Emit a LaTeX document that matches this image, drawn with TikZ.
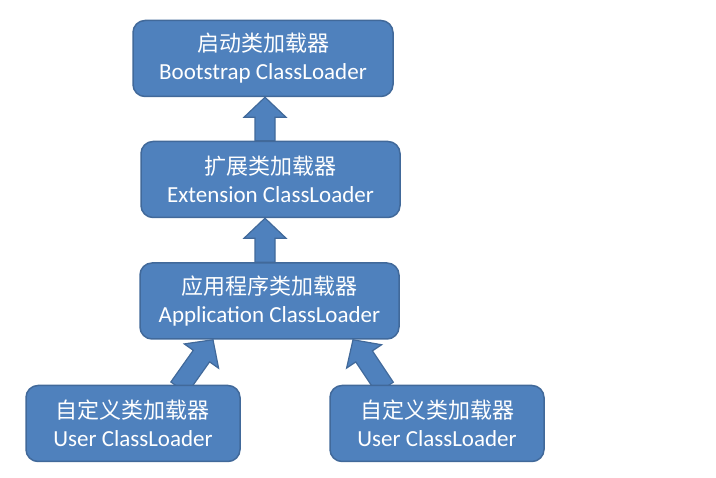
\documentclass[tikz,border=0pt]{standalone}
\usepackage{fontspec}
\setmainfont{Carlito}
\newfontfamily\cjk{Noto Sans CJK SC}
\usepackage{xcolor}
\usetikzlibrary{calc,backgrounds}

\definecolor{loaderblue}{HTML}{4F81BD}
\definecolor{loaderedge}{HTML}{41699A}

% fat arrow from #1 (base) to #2 (tip)
\newcommand{\fatarrow}[2]{%
  \coordinate (fa-s) at #1;
  \coordinate (fa-t) at #2;
  \coordinate (fa-h) at ($(fa-t)!20pt!(fa-s)$);
  \draw[fat arrow] ($(fa-s)!10pt!90:(fa-t)$) -- ($(fa-h)!10pt!-90:(fa-s)$)
    -- ($(fa-h)!21pt!-90:(fa-s)$) -- (fa-t) -- ($(fa-h)!21pt!90:(fa-s)$)
    -- ($(fa-h)!10pt!90:(fa-s)$) -- ($(fa-s)!10pt!-90:(fa-t)$) -- cycle;
}

\begin{document}
\begin{tikzpicture}[
            x = 1pt, y = -1pt, % pixel grid of the reference
            line join = round,
            fat arrow/.style = {fill = loaderblue, draw = loaderedge, line width = 1.2pt}
        ]

        \tikzstyle{loader}=[
            draw = loaderedge,
            line width = 1.5pt,
            fill = loaderblue,
            rounded corners = 12pt,
            text = white,
            align = center,
            inner sep = 0pt,
            minimum height = 76pt,
            font = \fontsize{23}{28}\selectfont
        ]

\useasboundingbox (0,0) rectangle (716,478);

\node[loader, minimum width = 260pt] (boot) at (263,58.5) {{\cjk\fontsize{22}{28}\selectfont 启动类加载器}\\Bootstrap ClassLoader};
\node[loader, minimum width = 259pt] (ext) at (270.5,179.5) {{\cjk\fontsize{22}{28}\selectfont 扩展类加载器}\\Extension ClassLoader};
\node[loader, minimum width = 259pt] (app) at (269.5,301) {{\cjk\fontsize{22}{28}\selectfont 应用程序类加载器}\\Application ClassLoader};
\node[loader, minimum width = 214pt] (user1) at (133,423.5) {{\cjk\fontsize{22}{28}\selectfont 自定义类加载器}\\User ClassLoader};
\node[loader, minimum width = 214pt] (user2) at (437,423.5) {{\cjk\fontsize{22}{28}\selectfont 自定义类加载器}\\User ClassLoader};

\coordinate (vx) at (265,0);

\begin{scope}[on background layer]
  \fatarrow{(ext.north -| vx)}{(boot.south -| vx)}
  \fatarrow{(app.north -| vx)}{(ext.south -| vx)}
  \fatarrow{($(user1.north)+(46,3)$)}{($(app.south)+(-56.5,0)$)}
  \fatarrow{($(user2.north)+(-52,3)$)}{($(app.south)+(83.5,0)$)}
\end{scope}
\end{tikzpicture}
\end{document}
